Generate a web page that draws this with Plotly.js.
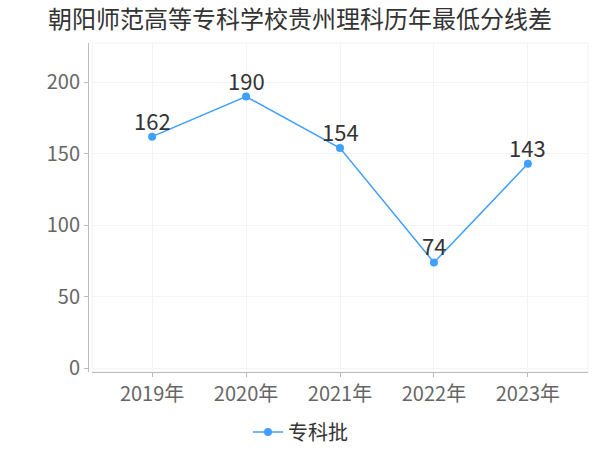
<!DOCTYPE html>
<html>
<head>
<meta charset="utf-8">
<script src="https://cdn.plot.ly/plotly-3.0.1.min.js"></script>
<style>html,body{margin:0;padding:0;background:#fff;}#chart{width:600px;height:450px;}</style>
</head>
<body>
<div id="chart"></div>
<script>
var categories = ["2019年", "2020年", "2021年", "2022年", "2023年"];
var seriesName = "专科批";
var values = [162, 190, 154, 74, 143];
var yTicks = [0, 50, 100, 150, 200];

var FONT = '"Noto Sans CJK SC", "Noto Sans", sans-serif';
var idx = categories.map(function(_, i){ return i; });

var trace = {
  type: 'scatter',
  mode: 'lines+markers',
  name: seriesName,
  x: idx,
  y: values,
  line: {color: '#3FA0FF', width: 1.5},
  marker: {color: '#3FA0FF', size: 8},
  cliponaxis: false,
  hoverinfo: 'skip'
};

var labels = values.map(function(v, i){
  return {x: idx[i], y: v, xref: 'x', yref: 'y', text: String(v), showarrow: false,
    xanchor: 'center', yanchor: 'bottom', yshift: -1,
    font: {family: FONT, size: 22, color: '#333333'}};
});

var layout = {
  width: 600, height: 450,
  margin: {l: 88, r: 12, t: 43, b: 78, autoexpand: false},
  paper_bgcolor: '#ffffff',
  plot_bgcolor: '#ffffff',
  font: {family: FONT, color: '#666666'},
  title: {text: '朝阳师范高等专科学校贵州理科历年最低分线差', font: {family: FONT, size: 24, color: '#333333'}, x: 0.5, xanchor: 'center', yref: 'container', y: 0.957, yanchor: 'middle'},
  xaxis: {
    domain: [0.008, 1],
    range: [-0.64, 4.64],
    tickmode: 'array', tickvals: idx, ticktext: categories,
    tickfont: {family: FONT, size: 20, color: '#666666'},
    showline: true, linecolor: '#bbbbbb', linewidth: 1,
    ticks: 'outside', ticklen: 4, tickcolor: '#bbbbbb',
    showgrid: true, gridcolor: '#f4f4f4', gridwidth: 1,
    zeroline: false, fixedrange: true
  },
  yaxis: {
    anchor: 'free', position: 0,
    range: [-2.6, 227.5],
    tickmode: 'array', tickvals: yTicks,
    tickfont: {family: FONT, size: 20, color: '#666666'},
    showline: true, linecolor: '#bbbbbb', linewidth: 1,
    ticks: 'outside', ticklen: 4, tickcolor: '#bbbbbb',
    showgrid: true, gridcolor: '#f4f4f4', gridwidth: 1,
    zeroline: false, fixedrange: true
  },
  annotations: labels,
  shapes: [{
    type: 'rect', xref: 'paper', yref: 'paper', x0: 0.008, x1: 1, y0: 0, y1: 1,
    line: {color: '#f2f2f2', width: 1}, layer: 'below'
  }],
  showlegend: true,
  legend: {orientation: 'h', x: 0.425, xanchor: 'center', yref: 'container', y: 0.04, yanchor: 'middle',
    font: {family: FONT, size: 20, color: '#333333'}, itemwidth: 30}
};

Plotly.newPlot('chart', [trace], layout, {displayModeBar: false, staticPlot: true});
</script>
</body>
</html>
